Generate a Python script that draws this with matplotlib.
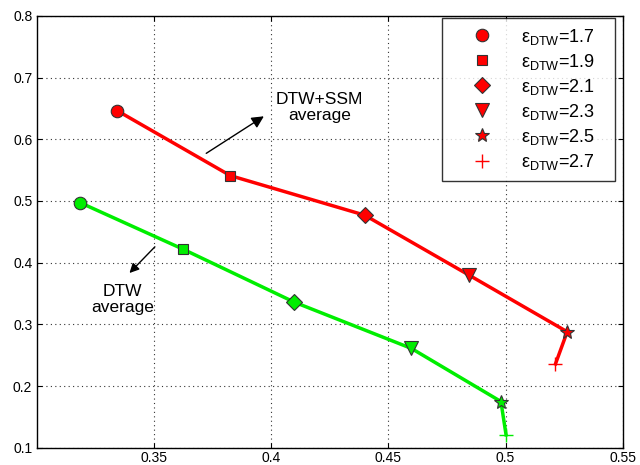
import matplotlib.pyplot as plt
from matplotlib.lines import Line2D

plt.rcParams['font.family'] = ['Liberation Sans', 'DejaVu Sans']
plt.rcParams['mathtext.fontset'] = 'custom'
plt.rcParams['mathtext.rm'] = 'Liberation Sans'
plt.rcParams['mathtext.it'] = 'Liberation Sans:italic'

# epsilon values and matching markers
eps_labels = ['1.7', '1.9', '2.1', '2.3', '2.5', '2.7']
markers = ['o', 's', 'D', 'v', '*', '+']

# DTW+SSM average (red)
ssm_x = [0.3343, 0.3825, 0.4398, 0.4843, 0.5263, 0.5213]
ssm_y = [0.646, 0.541, 0.477, 0.380, 0.288, 0.236]

# DTW average (green)
dtw_x = [0.3185, 0.3622, 0.4098, 0.4598, 0.4980, 0.5002]
dtw_y = [0.497, 0.422, 0.336, 0.261, 0.175, 0.121]

red = '#ff0000'
green = '#00ee00'

fig = plt.figure(figsize=(6.4, 4.65), dpi=100)
ax = fig.add_axes([0.058, 0.037, 0.915, 0.929])

ax.plot(ssm_x, ssm_y, color=red, lw=2.5, zorder=2)
ax.plot(dtw_x, dtw_y, color=green, lw=2.5, zorder=2)

sizes = {'o': 9, 's': 7.5, 'D': 8, 'v': 10, '*': 10, '+': 10}
for xs, ys, c in [(ssm_x, ssm_y, red), (dtw_x, dtw_y, green)]:
    for x, y, m in zip(xs, ys, markers):
        if m == '+':
            ax.plot(x, y, marker=m, color=c, ms=sizes[m], mew=1.0, ls='none', zorder=3)
        else:
            ax.plot(x, y, marker=m, mfc=c, mec='#333333', mew=0.8, ms=sizes[m], ls='none', zorder=3)

handles = []
for m in markers:
    if m == '+':
        h = Line2D([], [], marker=m, color=red, ms=sizes[m], mew=1.0, ls='none')
    else:
        h = Line2D([], [], marker=m, mfc=red, mec='#333333', mew=0.8, ms=sizes[m], ls='none')
    handles.append(h)
labels = ['ε$_{\\mathrm{DTW}}$=' + e + '   ' for e in eps_labels]
leg = ax.legend(handles, labels, loc='upper right', bbox_to_anchor=(0.986, 0.996),
                fontsize=13, frameon=True, fancybox=False, edgecolor='black',
                borderaxespad=0, handletextpad=0.4, labelspacing=0.28,
                borderpad=0.5, handlelength=3.44)
leg.get_frame().set_linewidth(1.0)

ax.annotate('', xy=(0.3978, 0.6396), xytext=(0.3712, 0.5747),
            arrowprops=dict(arrowstyle='-|>', color='black', lw=1, mutation_scale=18))
ax.text(0.4206, 0.651, 'DTW+SSM\naverage', ha='center', va='center', fontsize=12.5,
        linespacing=1.05)
ax.annotate('', xy=(0.3386, 0.380), xytext=(0.3511, 0.4289),
            arrowprops=dict(arrowstyle='-|>', color='black', lw=1, mutation_scale=14))
ax.text(0.3365, 0.340, 'DTW\naverage', ha='center', va='center', fontsize=12.5,
        linespacing=1.05)

ax.set_xlim(0.3, 0.55)
ax.set_ylim(0.1, 0.8)
ax.set_xticks([0.35, 0.4, 0.45, 0.5, 0.55])
ax.set_xticklabels(['0.35', '0.4', '0.45', '0.5', '0.55'])
ax.set_yticks([0.1, 0.2, 0.3, 0.4, 0.5, 0.6, 0.7, 0.8])
ax.grid(True, ls=(0, (1, 3)), color='#333333', lw=0.8)
ax.tick_params(direction='in', top=True, right=True, labelsize=10)
ax.tick_params(axis='x', pad=2)
for s in ax.spines.values():
    s.set_linewidth(1.0)

plt.savefig('out.png', dpi=100)
